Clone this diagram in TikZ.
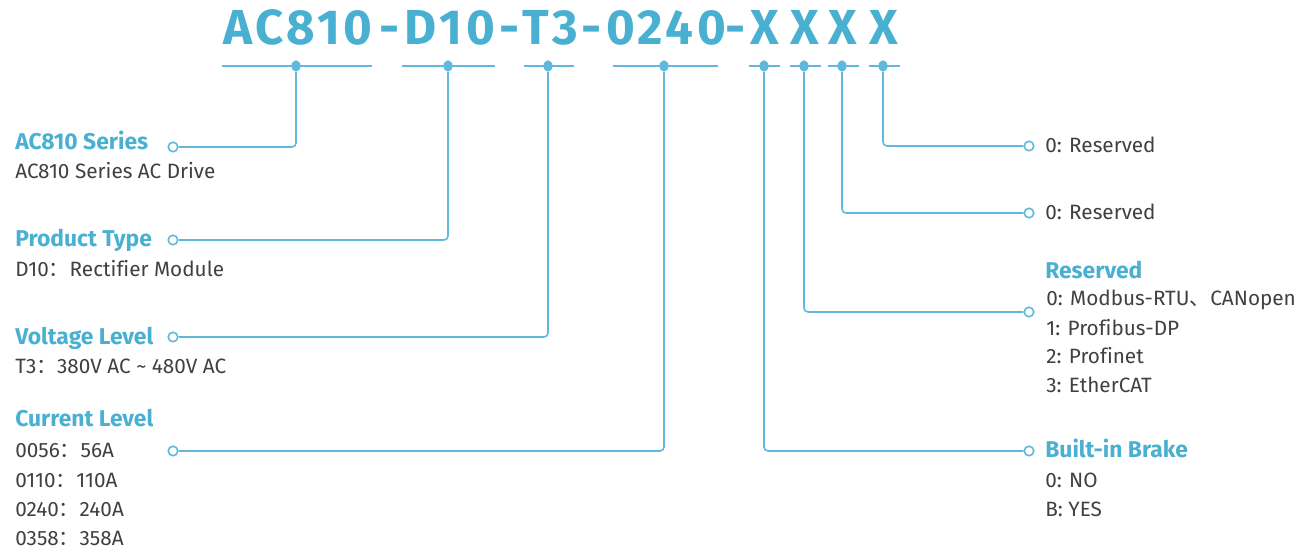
\documentclass[tikz,border=0pt]{standalone}
\usepackage{fontspec}
\setmainfont{Fira Sans}[Ligatures=CommonOff]
\newfontfamily\cjk{Noto Sans CJK SC}
\usetikzlibrary{positioning, shapes.geometric}
\definecolor{codeblue}{RGB}{74,176,210}
\definecolor{leadblue}{RGB}{96,184,220}
\definecolor{textgray}{RGB}{64,64,64}
\newcommand{\fcolon}{{\cjk ：}}
\newcommand{\fcomma}{{\cjk 、}}

\begin{document}
\begin{tikzpicture}[x=0.02cm, y=-0.02cm,
    codetxt/.style={anchor=base, inner sep=0, font=\bfseries\fontsize{28}{30}\selectfont\addfontfeature{LetterSpace=7.5}, text=codeblue},
    tick/.style={ellipse, fill=leadblue, inner sep=0, minimum width=0.18cm, minimum height=0.23cm},
    ring/.style={circle, draw=leadblue, fill=white, line width=0.9pt, inner sep=0, minimum size=0.19cm},
    underbar/.style={draw=leadblue, line width=0.9pt},
    leader/.style={draw=leadblue, line width=0.9pt, rounded corners=0.08cm},
    headtxt/.style={anchor=base west, inner sep=0, font=\bfseries\fontsize{13}{15}\selectfont, text=codeblue},
    itemtxt/.style={anchor=base west, inner sep=0, font=\fontsize{11.8}{14}\selectfont, text=textgray}
]
\useasboundingbox (0,0) rectangle (1299,553);

% === MODEL CODE ===
\node[codetxt] (c_ser) at (298,45) {AC810};
\node[codetxt] (c_h1) at (390,45) {-};
\node[codetxt] (c_type) at (450,45) {D10};
\node[codetxt] (c_h2) at (510,45) {-};
\node[codetxt] (c_volt) at (550,45) {T3};
\node[codetxt] (c_h3) at (592,45) {-};
\node[codetxt] (c_cur) at (666,45) {0240};
\node[codetxt] (c_h4) at (736,45) {-};
\node[codetxt] (c_brake) at (765,45) {X};
\node[codetxt] (c_bus) at (805,45) {X};
\node[codetxt] (c_res2) at (843,45) {X};
\node[codetxt] (c_res1) at (884,45) {X};

% Underlines
\draw[underbar] (222,66) -- (372,66);
\draw[underbar] (402,66) -- (495,66);
\draw[underbar] (524,66) -- (574,66);
\draw[underbar] (613,66) -- (718,66);
\draw[underbar] (749,66) -- (780,66);
\draw[underbar] (790,66) -- (821,66);
\draw[underbar] (828,66) -- (859,66);
\draw[underbar] (869,66) -- (900,66);

\node[tick] (tk_ser) at (296,66) {};
\node[tick] (tk_type) at (448,66) {};
\node[tick] (tk_volt) at (548,66) {};
\node[tick] (tk_cur) at (664,66) {};
\node[tick] (tk_brake) at (764,66) {};
\node[tick] (tk_bus) at (804,66) {};
\node[tick] (tk_res2) at (842,66) {};
\node[tick] (tk_res1) at (883,66) {};

% === LEFT FIELDS ===
\node[ring] (rg_ser) at (173,147) {};
\node[ring] (rg_type) at (173,240) {};
\node[ring] (rg_volt) at (173,337) {};
\node[ring] (rg_cur) at (173,451) {};

\node[headtxt] (h_ser) at (15,150) {AC810 Series};
\node[itemtxt] (i_ser) at (15,179) {AC810 Series AC Drive};

\node[headtxt] (h_type) at (15,247) {Product Type};
\node[itemtxt] (i_type) at (15,277) {D10\fcolon Rectifier Module};

\node[headtxt] (h_volt) at (15,345) {Voltage Level};
\node[itemtxt] (i_volt) at (15,374) {T3\fcolon 380V AC \textasciitilde{} 480V AC};

\node[headtxt] (h_cur) at (15,427) {Current Level};
\node[itemtxt] (i_cur1) at (15,458) {0056\fcolon 56A};
\node[itemtxt] (i_cur2) at (15,488) {0110\fcolon 110A};
\node[itemtxt] (i_cur3) at (15,517) {0240\fcolon 240A};
\node[itemtxt] (i_cur4) at (15,546) {0358\fcolon 358A};

% Leaders to the left
\draw[leader] (tk_ser) |- (rg_ser);
\draw[leader] (tk_type) |- (rg_type);
\draw[leader] (tk_volt) |- (rg_volt);
\draw[leader] (tk_cur) |- (rg_cur);

% === RIGHT FIELDS ===
\node[ring] (rg_res1) at (1029,146) {};
\node[ring] (rg_res2) at (1029,213) {};
\node[ring] (rg_bus) at (1029,312) {};
\node[ring] (rg_brake) at (1029,451) {};

\node[itemtxt] (i_res1) at (1045,153) {0: Reserved};
\node[itemtxt] (i_res2) at (1045,220) {0: Reserved};

\node[headtxt] (h_bus) at (1045,279) {Reserved};
\node[itemtxt] (i_bus1) at (1046,306) {0: Modbus-RTU\fcomma CANopen};
\node[itemtxt] (i_bus2) at (1046,336) {1: Profibus-DP};
\node[itemtxt] (i_bus3) at (1046,364) {2: Profinet};
\node[itemtxt] (i_bus4) at (1046,393) {3: EtherCAT};

\node[headtxt] (h_brake) at (1045,458) {Built-in Brake};
\node[itemtxt] (i_brake1) at (1045,488) {0: NO};
\node[itemtxt] (i_brake2) at (1045,517) {B: YES};

% Leaders to the right
\draw[leader] (tk_res1) |- (rg_res1);
\draw[leader] (tk_res2) |- (rg_res2);
\draw[leader] (tk_bus) |- (rg_bus);
\draw[leader] (tk_brake) |- (rg_brake);

\end{tikzpicture}
\end{document}
